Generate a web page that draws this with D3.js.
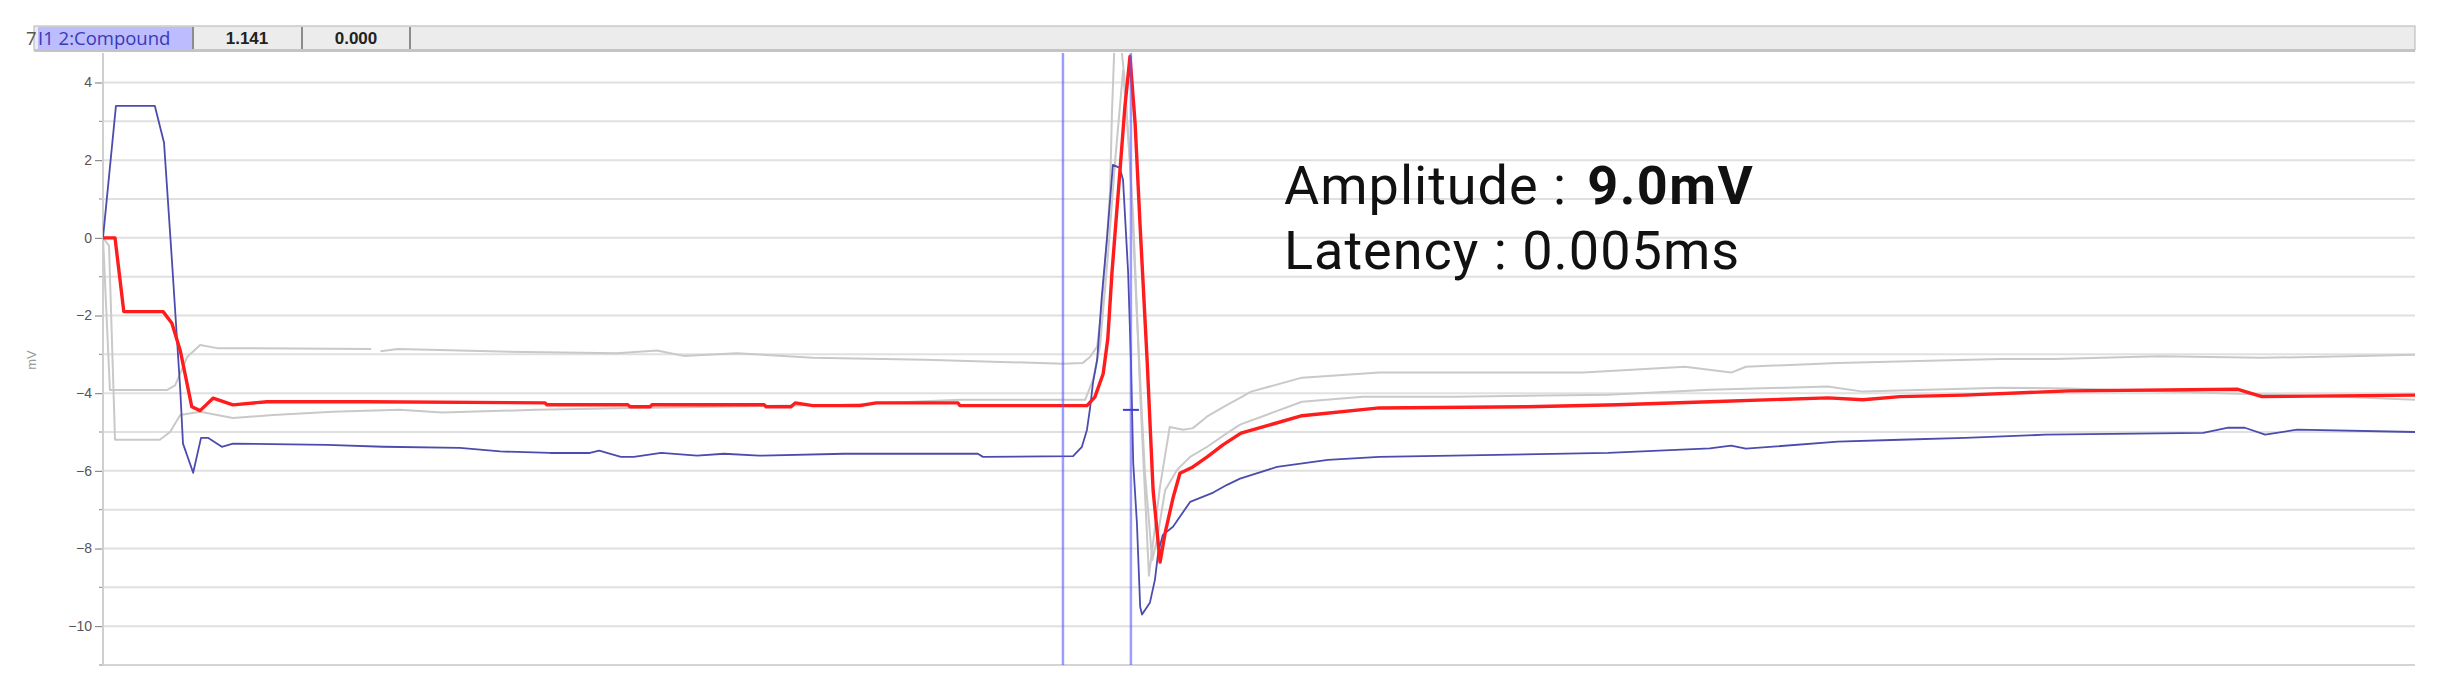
<!DOCTYPE html>
<meta charset="utf-8">
<title>compound trace</title>
<script src="https://cdn.jsdelivr.net/npm/d3@7"></script>
<style>
body { margin: 0; background: #fff; }
.tick-label { font: 14px "Liberation Sans", sans-serif; fill: #555; }
.trace { fill: none; stroke-linejoin: round; }
</style>
<body>
<script>

// time (ms, arbitrary sweep units) and voltage (mV)
var yMajor = [4, 2, 0, -2, -4, -6, -8, -10];
var yMinor = [3, 1, -1, -3, -5, -7, -9, -11];
var yGrid = [4, 3, 2, 1, 0, -1, -2, -3, -4, -5, -6, -7, -8, -9, -10];
var cursorTimes = [20.76, 22.23];
var cursorMark = -4.43;
var headerCells = ["1.141", "0.000"];
var channelName = "I1 2:Compound";
var amplitudeText = "9.0mV";
var latencyText = "0.005ms";

var redTrace = [
  [0, 0], [0.26, 0], [0.45, -1.9], [1.30, -1.9], [1.49, -2.2], [1.67, -2.9], [1.92, -4.35], [2.10, -4.45],
  [2.38, -4.13], [2.81, -4.3], [3.55, -4.22], [5.71, -4.22], [9.56, -4.25], [9.60, -4.3], [11.35, -4.3],
  [11.40, -4.35], [11.83, -4.35], [11.87, -4.3], [14.30, -4.3], [14.34, -4.35], [14.88, -4.35], [14.97, -4.25],
  [15.35, -4.32], [16.37, -4.32], [16.72, -4.25], [18.49, -4.25], [18.53, -4.32], [21.28, -4.32], [21.45, -4.1],
  [21.63, -3.5], [21.73, -2.6], [21.82, -0.9], [21.99, 1.68], [22.10, 3.38], [22.21, 4.67], [22.32, 2.96],
  [22.43, 0.28], [22.58, -3.14], [22.71, -6.5], [22.86, -8.35], [22.97, -7.6], [23.14, -6.7], [23.29, -6.06],
  [23.57, -5.9], [23.88, -5.64], [24.22, -5.33], [24.61, -5.03], [25.93, -4.58], [27.60, -4.38], [30.80, -4.35],
  [32.76, -4.3], [34.75, -4.22], [37.30, -4.12], [38.06, -4.17], [38.86, -4.09], [40.25, -4.05], [42.52, -3.94],
  [46.17, -3.9], [46.69, -4.09], [50, -4.05]
];

var blueTrace = [
  [0, 0], [0.28, 3.4], [1.12, 3.4], [1.32, 2.45], [1.49, -0.57], [1.67, -3.9], [1.73, -5.3], [1.95, -6.05],
  [2.12, -5.15], [2.27, -5.15], [2.57, -5.38], [2.81, -5.3], [4.84, -5.33], [6.06, -5.38], [7.72, -5.41],
  [8.59, -5.5], [9.67, -5.54], [10.53, -5.54], [10.73, -5.48], [11.20, -5.64], [11.48, -5.64], [12.07, -5.54],
  [12.85, -5.61], [13.43, -5.56], [14.19, -5.61], [16.03, -5.56], [18.92, -5.56], [19.03, -5.64], [20.98, -5.62],
  [21.17, -5.38], [21.28, -4.94], [21.35, -4.35], [21.41, -3.73], [21.50, -3.14], [21.60, -1.52], [21.71, -0.05],
  [21.78, 0.98], [21.84, 1.88], [21.99, 1.8], [22.06, 1.49], [22.17, -0.9], [22.23, -3.14], [22.28, -5.8],
  [22.36, -7.35], [22.43, -9.5], [22.47, -9.7], [22.64, -9.4], [22.75, -8.8], [22.82, -8.1], [22.92, -7.65],
  [23.14, -7.44], [23.51, -6.8], [24.01, -6.56], [24.31, -6.36], [24.59, -6.2], [25.39, -5.9], [26.49, -5.72],
  [27.60, -5.64], [32.55, -5.54], [34.75, -5.42], [35.21, -5.35], [35.53, -5.43], [37.52, -5.25], [38.86, -5.2],
  [40.27, -5.15], [42.00, -5.07], [45.42, -5.02], [45.96, -4.89], [46.32, -4.89], [46.76, -5.07], [47.45, -4.94],
  [50, -5.0]
];

var grayTraceA = [
  [0, 0], [0.15, -3.92], [1.38, -3.92], [1.56, -3.8], [1.82, -3.07], [2.10, -2.76], [2.47, -2.84], [5.80, -2.86],
  [5.88, null], [6.00, -2.92], [6.38, -2.86], [8.59, -2.93], [11.12, -2.97], [11.98, -2.9], [12.56, -3.04], [13.71, -2.97],
  [15.35, -3.09], [17.78, -3.14], [20.76, -3.24], [21.19, -3.22], [21.35, -3.06], [21.50, -2.8], [21.60, -1.77],
  [21.71, -0.05], [21.78, 1.24], [21.82, 3.22], [21.89, 5.5], [21.93, 6.0], [22.10, 4.0], [22.28, 0.5],
  [22.43, -4.0], [22.62, -8.7], [22.86, -6.4], [23.07, -4.87], [23.36, -4.94], [23.57, -4.9], [23.88, -4.6],
  [24.31, -4.3], [24.59, -4.12], [24.83, -3.96], [25.93, -3.6], [27.60, -3.47], [32.01, -3.47], [34.21, -3.32],
  [35.21, -3.47], [35.53, -3.32], [37.52, -3.22], [41.03, -3.12], [42.21, -3.12], [44.46, -3.05], [46.69, -3.09],
  [48.55, -3.05], [50, -3.01]
];

var grayTraceB = [
  [0, 0], [0.13, -0.2], [0.26, -5.2], [1.23, -5.2], [1.45, -5.0], [1.67, -4.56], [2.10, -4.48], [2.81, -4.64],
  [3.68, -4.56], [4.97, -4.48], [6.42, -4.43], [7.33, -4.5], [9.36, -4.43], [11.5, -4.38], [16.0, -4.3],
  [18.53, -4.17], [21.24, -4.17], [21.41, -3.66], [21.56, -2.8], [21.73, -0.5], [21.89, 2.0], [22.06, 4.3],
  [22.21, 2.0], [22.36, -2.0], [22.53, -6.0], [22.69, -8.3], [22.79, -7.8], [22.97, -6.5], [23.23, -5.97],
  [23.51, -5.64], [23.88, -5.38], [24.31, -5.03], [24.59, -4.81], [25.93, -4.22], [27.25, -4.09], [29.24, -4.09],
  [32.55, -4.04], [34.75, -3.91], [37.30, -3.83], [38.06, -3.96], [41.03, -3.86], [42.5, -3.88], [48.55, -4.1],
  [50, -4.17]
];

var width = 2440, height = 692;
var plot = {left: 103, right: 2415, top: 53, bottom: 665};

var svg = d3.select("body").append("svg")
    .attr("width", width)
    .attr("height", height);

var x = d3.scaleLinear().domain([0, 50]).range([plot.left, plot.right]);
var y = d3.scaleLinear().domain([-11, 4.76]).range([plot.bottom, plot.top]);

// header strip
var header = svg.append("g");
header.append("rect")
    .attr("x", 34).attr("y", 26).attr("width", plot.right - 34).attr("height", 24)
    .attr("fill", "#ececec").attr("stroke", "#b4b4b4").attr("stroke-width", 1);
header.append("rect")
    .attr("x", 34).attr("y", 49).attr("width", plot.right - 34).attr("height", 3)
    .attr("fill", "#c4c4c4");
header.append("rect")
    .attr("x", 38).attr("y", 27).attr("width", 155).attr("height", 22)
    .attr("fill", "#bcbcff");
header.append("text")
    .attr("x", 26).attr("y", 45)
    .attr("font-family", "'Open Sans', sans-serif").attr("font-size", "18.5px")
    .attr("fill", "#555")
    .text("7");
header.append("text")
    .attr("x", 38).attr("y", 45)
    .attr("font-family", "'Open Sans', sans-serif").attr("font-size", "18.5px")
    .attr("fill", "#3a3ab4")
    .text(channelName);

var cellX = [193, 302];
headerCells.forEach(function(c, i) {
  header.append("line")
      .attr("x1", cellX[i]).attr("x2", cellX[i])
      .attr("y1", 27).attr("y2", 49)
      .attr("stroke", "#8c8c8c").attr("stroke-width", 2);
  header.append("text")
      .attr("x", cellX[i] + 54).attr("y", 44)
      .attr("text-anchor", "middle")
      .attr("font-family", "'Liberation Sans', sans-serif").attr("font-size", "17px")
      .attr("font-weight", "bold").attr("fill", "#222")
      .text(c);
});
header.append("line")
    .attr("x1", 410).attr("x2", 410).attr("y1", 27).attr("y2", 49)
    .attr("stroke", "#8c8c8c").attr("stroke-width", 2);

// grid
svg.append("g").selectAll("line")
    .data(yGrid)
  .enter().append("line")
    .attr("x1", plot.left).attr("x2", plot.right)
    .attr("y1", function(d) { return y(d); })
    .attr("y2", function(d) { return y(d); })
    .attr("stroke", "#e0e0e0")
    .attr("stroke-width", 2);

// y axis
var axisG = svg.append("g").attr("transform", "translate(" + plot.left + ",0)");
axisG.call(d3.axisLeft(y).tickValues(yMajor).tickSize(8).tickPadding(3).tickFormat(d3.format("d")));
axisG.select(".domain").remove();
axisG.selectAll(".tick line").attr("stroke", "#777");
axisG.selectAll(".tick text").attr("class", "tick-label").attr("fill", null);

svg.append("g").selectAll("line")
    .data(yMinor)
  .enter().append("line")
    .attr("x1", plot.left - 4).attr("x2", plot.left)
    .attr("y1", function(d) { return y(d); })
    .attr("y2", function(d) { return y(d); })
    .attr("stroke", "#888");

svg.append("line")
    .attr("x1", plot.left).attr("x2", plot.left)
    .attr("y1", plot.top).attr("y2", plot.bottom)
    .attr("stroke", "#cfcfcf").attr("stroke-width", 2);
svg.append("line")
    .attr("x1", plot.left).attr("x2", plot.right)
    .attr("y1", plot.bottom).attr("y2", plot.bottom)
    .attr("stroke", "#d4d4d4").attr("stroke-width", 2);

svg.append("text")
    .attr("transform", "translate(36,360) rotate(-90)")
    .attr("text-anchor", "middle")
    .attr("font-family", "'Liberation Sans', sans-serif").attr("font-size", "13px")
    .attr("fill", "#999")
    .text("mV");

// traces
svg.append("clipPath").attr("id", "plotClip")
  .append("rect")
    .attr("x", plot.left).attr("y", plot.top)
    .attr("width", plot.right - plot.left).attr("height", plot.bottom - plot.top);

var line = d3.line()
    .defined(function(d) { return d[1] !== null; })
    .x(function(d) { return x(d[0]); })
    .y(function(d) { return y(d[1]); });

var traces = [
  {data: grayTraceA, color: "#c9c9c9", w: 2},
  {data: grayTraceB, color: "#c9c9c9", w: 2},
  {data: blueTrace, color: "#4c4cae", w: 1.8},
  {data: redTrace, color: "#ff1c1c", w: 3.4}
];

svg.append("g").attr("clip-path", "url(#plotClip)")
  .selectAll("path")
    .data(traces)
  .enter().append("path")
    .attr("class", "trace")
    .attr("d", function(d) { return line(d.data); })
    .attr("stroke", function(d) { return d.color; })
    .attr("stroke-width", function(d) { return d.w; });

// cursors
svg.append("g").selectAll("line")
    .data(cursorTimes)
  .enter().append("line")
    .attr("x1", function(d) { return x(d); })
    .attr("x2", function(d) { return x(d); })
    .attr("y1", plot.top).attr("y2", plot.bottom)
    .attr("stroke", "#5a5aff")
    .attr("stroke-opacity", 0.6)
    .attr("stroke-width", 2.5);

svg.append("line")
    .attr("x1", x(cursorTimes[1]) - 8).attr("x2", x(cursorTimes[1]) + 8)
    .attr("y1", y(cursorMark)).attr("y2", y(cursorMark))
    .attr("stroke", "#3c3cd8").attr("stroke-width", 2);

// annotation
var noteFont = "Roboto, sans-serif";
var ampLabel = svg.append("text")
    .attr("x", 1284).attr("y", 204)
    .attr("font-family", noteFont).attr("font-size", "54px")
    .attr("letter-spacing", "1px")
    .attr("fill", "#111")
    .text("Amplitude :");
var ampEnd = 1284 + ampLabel.node().getComputedTextLength();
svg.append("text")
    .attr("x", ampEnd + 20).attr("y", 204)
    .attr("font-family", noteFont).attr("font-size", "54px")
    .attr("font-weight", "bold").attr("letter-spacing", "1.5px")
    .attr("fill", "#111")
    .text(amplitudeText);

svg.append("text")
    .attr("x", 1284).attr("y", 269)
    .attr("font-family", noteFont).attr("font-size", "54px")
    .attr("letter-spacing", "1px")
    .attr("fill", "#111")
    .text("Latency : " + latencyText);

</script>
</body>
</html>
